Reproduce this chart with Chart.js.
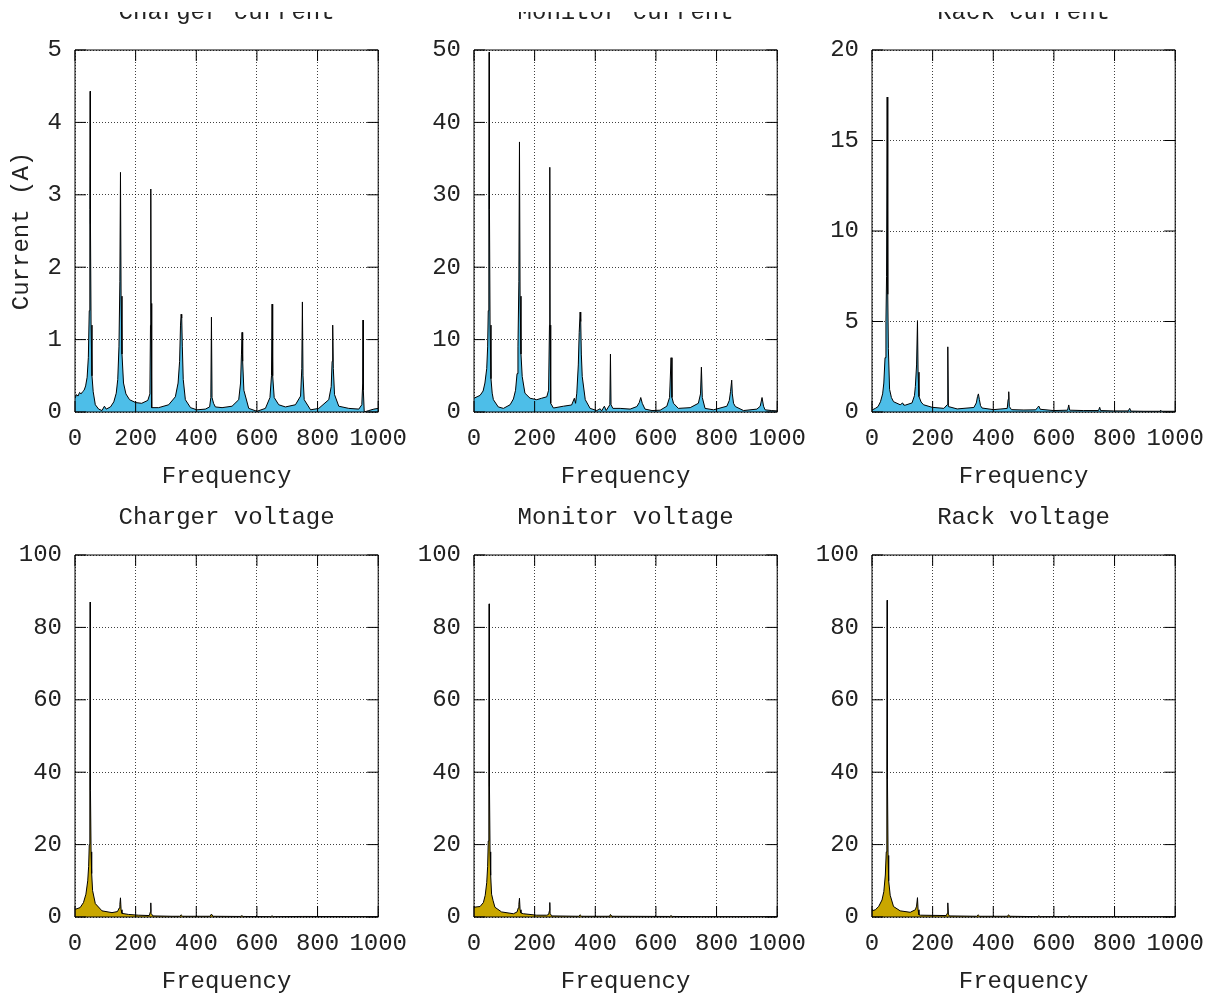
<!DOCTYPE html>
<html>
<head>
<meta charset="utf-8">
<script src="https://cdn.jsdelivr.net/npm/chart.js@4/dist/chart.umd.min.js"></script>
<style>
    html, body { margin: 0; padding: 0; background: #fff; overflow: hidden; }
    body { width: 1214px; height: 999px; position: relative; overflow: hidden; }
    canvas { position: absolute; }
    /* top band of the original picture is blank, cutting the first row titles */
    #topRow { position: absolute; left: 0; top: 12px; width: 1214px; height: 500px; overflow: hidden; }
</style>
</head>
<body>
<div id="topRow">
<canvas id="c0" width="419" height="537" style="left:0px;top:-57px"></canvas>
<canvas id="c1" width="419" height="537" style="left:399px;top:-57px"></canvas>
<canvas id="c2" width="419" height="537" style="left:797px;top:-57px"></canvas>
</div>
<canvas id="c3" width="419" height="537" style="left:0px;top:460px"></canvas>
<canvas id="c4" width="419" height="537" style="left:399px;top:460px"></canvas>
<canvas id="c5" width="419" height="537" style="left:797px;top:460px"></canvas>
<script>
// spectra (frequency, amplitude)
const chargerCurrentFreq = [0,5,10,15,20,25,30,35,40,44,47,49,50,51,53,56,60,67,78,89,97,103,117,128,136,141,145,148,150,152,155,160,168,180,200,220,240,247,249,250,251,253,276,309,331,340,345,348,350,352,354,357,364,381,402,430,444,448,450,452,457,463,485,518,540,546,549,551,553,557,573,600,628,643,648,650,652,657,672,694,727,744,748,750,752,756,777,804,837,845,848,850,852,856,870,903,936,946,949,950,951,954,969,986,1000];
const chargerCurrent = [0.19,0.24,0.22,0.27,0.25,0.28,0.30,0.36,0.48,0.75,1.4,2.8,4.43,2.6,1.2,0.5,0.28,0.10,0.04,0.02,0.08,0.04,0.07,0.14,0.26,0.45,0.9,1.8,3.31,1.6,0.8,0.4,0.25,0.17,0.13,0.12,0.16,0.25,1.2,3.08,1.5,0.06,0.06,0.10,0.21,0.40,0.7,1.2,1.35,1.30,0.9,0.45,0.17,0.06,0.03,0.04,0.07,0.2,1.31,0.2,0.12,0.07,0.06,0.08,0.17,0.4,0.8,1.1,0.7,0.3,0.05,0.01,0.05,0.20,0.5,1.49,0.5,0.2,0.10,0.07,0.10,0.22,0.6,1.52,0.5,0.17,0.03,0.05,0.17,0.35,0.7,1.2,0.6,0.24,0.08,0.05,0.04,0.10,0.4,1.27,0.3,0.0,0.02,0.04,0.05];

const monitorCurrentFreq = [0,10,20,30,36,42,45,47,49,50,51,53,56,60,64,80,97,119,130,137,142,145,148,150,152,155,159,168,185,207,223,240,246,249,250,251,253,262,295,322,331,335,339,344,347,350,352,354,357,367,383,405,416,421,430,436,448,450,452,458,482,515,537,545,550,555,564,587,614,636,645,650,653,658,674,713,740,747,750,753,762,790,834,842,846,850,852,856,862,889,933,944,950,955,960,982,1000];
const monitorCurrent = [1.9,2.1,2.3,2.9,4.0,6.0,9.0,14,30,49.7,28,12,4.6,2.6,1.7,0.7,0.5,1.0,1.8,3.0,5.3,9,18,37.3,16,8,4.9,2.6,1.9,1.7,1.9,2.1,3.0,12,33.8,12,1.2,0.55,0.8,0.97,1.9,1.2,2.6,6.5,11,13.8,12.5,8,4.9,1.7,0.5,0.2,0.45,0.15,0.8,0.2,1.0,8.0,1.0,0.5,0.5,0.4,0.75,1.3,2.0,1.2,0.4,0.2,0.25,0.8,2.0,7.5,2.0,1.2,0.5,0.6,1.2,2.5,6.2,2.0,0.5,0.3,0.8,1.6,2.8,4.4,2.5,1.2,0.75,0.2,0.4,0.8,2.0,0.8,0.3,0.2,0.15];

const rackCurrentFreq = [0,11,20,28,35,39,43,46,48,50,52,54,58,64,71,93,101,105,110,132,140,143,147,150,152,155,162,170,198,237,248,250,252,281,336,344,348,351,354,358,363,401,446,449,451,453,460,501,540,546,550,555,599,645,649,652,698,747,751,754,797,845,850,854,897,950,952,955,1000];
const rackCurrent = [0.11,0.2,0.3,0.57,1.0,1.6,3.0,5.0,7.5,17.4,6.5,3.5,1.25,0.8,0.57,0.4,0.5,0.38,0.38,0.5,0.9,1.4,2.6,5.05,2.2,0.85,0.55,0.4,0.26,0.2,0.4,3.6,0.3,0.17,0.25,0.5,0.85,1.0,0.7,0.35,0.22,0.13,0.2,0.7,1.12,0.3,0.13,0.11,0.12,0.25,0.33,0.15,0.08,0.1,0.39,0.1,0.08,0.08,0.26,0.08,0.06,0.06,0.2,0.05,0.04,0.04,0.1,0.04,0.04];

const chargerVoltageFreq = [0,10,17,28,36,42,45,47,49,50,51,53,55,58,67,89,122,140,146,148,150,152,155,177,210,245,249,250,251,257,320,345,350,355,445,450,455,545,550,555,645,650,655,750,1000];
const chargerVoltage = [2.1,2.4,2.6,4.0,6.3,10,14,20,40,87,35,18,12,7.3,3.7,1.7,1.2,1.5,2.5,3.5,5.3,2.0,1.0,0.7,0.5,0.4,1.5,3.9,1.0,0.3,0.2,0.2,0.6,0.2,0.2,0.8,0.2,0.15,0.35,0.15,0.1,0.3,0.1,0.15,0.1];

const monitorVoltageFreq = [0,10,20,31,37,42,45,47,49,50,51,53,55,58,63,69,91,130,142,146,148,150,152,155,163,207,240,246,249,250,251,256,345,350,355,447,450,455,645,650,655,750,1000];
const monitorVoltage = [2.7,2.8,2.9,4.0,6.0,9.5,14,21,42,86.5,36,18,11.5,6.3,4.5,2.7,1.4,0.9,1.4,2.5,3.5,5.2,2.0,1.1,0.9,0.5,0.5,0.7,1.8,4.0,1.0,0.3,0.2,0.6,0.2,0.2,0.7,0.2,0.15,0.35,0.15,0.1,0.1];

const rackVoltageFreq = [0,11,22,33,39,44,47,49,50,51,53,55,60,71,93,126,143,147,150,152,155,160,200,245,248,250,252,255,345,350,355,447,450,455,545,550,555,645,650,655,1000];
const rackVoltage = [1.7,2.0,2.9,4.7,7,11.6,18,40,87.5,38,17,10,6,2.9,1.7,1.3,2.0,3.0,5.35,2.0,0.6,0.5,0.45,0.4,1.0,3.9,0.8,0.3,0.2,0.6,0.2,0.2,0.6,0.2,0.1,0.3,0.1,0.1,0.3,0.1,0.1];

const panelTitles = ['Charger current', 'Monitor current', 'Rack current',
                     'Charger voltage', 'Monitor voltage', 'Rack voltage'];
const xTicks = [0, 200, 400, 600, 800, 1000];
const yMax = [5, 50, 20, 100, 100, 100];
const yStep = [1, 10, 5, 20, 20, 20];

const currentFill = '#4dbee8';
const voltageFill = '#c9a700';
const FONT = {family: "'Liberation Mono', 'DejaVu Sans Mono', monospace", size: 24};
const TEXT = '#222';

// gnuplot style: solid border with inward ticks on all four sides
const frameTicks = {
    id: 'frameTicks',
    afterDatasetsDraw(chart) {
        const {ctx, chartArea: a, scales: {x, y}} = chart;
        const tl = 11;
        ctx.save();
        ctx.strokeStyle = '#000';
        ctx.lineWidth = 1;
        ctx.beginPath();
        x.ticks.forEach(t => {
            const px = x.getPixelForValue(t.value);
            ctx.moveTo(px, a.bottom); ctx.lineTo(px, a.bottom - tl);
            ctx.moveTo(px, a.top); ctx.lineTo(px, a.top + tl);
        });
        y.ticks.forEach(t => {
            const py = y.getPixelForValue(t.value);
            ctx.moveTo(a.left, py); ctx.lineTo(a.left + tl, py);
            ctx.moveTo(a.right, py); ctx.lineTo(a.right - tl, py);
        });
        ctx.rect(a.left, a.top, a.right - a.left, a.bottom - a.top);
        ctx.stroke();
        ctx.restore();
    }
};

function makePanel(idx, freq, amp, fillColor) {
    const points = freq.map((f, i) => ({x: f, y: amp[i]}));
    new Chart(document.getElementById('c' + idx).getContext('2d'), {
        type: 'line',
        data: {
            datasets: [{
                data: points,
                fill: 'origin',
                backgroundColor: fillColor,
                borderColor: '#000',
                borderWidth: 1,
                pointRadius: 0,
                tension: 0,
            }]
        },
        options: {
            responsive: false,
            animation: false,
            layout: {padding: {left: 0, right: 37, top: 0, bottom: 0}},
            plugins: {
                legend: {display: false},
                tooltip: {enabled: false},
                title: {
                    display: true,
                    text: panelTitles[idx],
                    fullSize: false,
                    color: TEXT,
                    font: {...FONT, weight: 'normal'},
                    padding: {top: 43.6, bottom: 22.6},
                },
            },
            scales: {
                x: {
                    type: 'linear',
                    min: 0,
                    max: 1000,
                    afterBuildTicks: (scale) => { scale.ticks = xTicks.map(v => ({value: v})); },
                    afterFit: (scale) => { scale.height = 80; },
                    ticks: {color: TEXT, font: FONT, padding: 12, maxRotation: 0, autoSkip: false,
                            callback: (v) => String(v)},
                    grid: {color: 'rgba(0,0,0,0.75)', drawTicks: false},
                    border: {display: false, dash: [1, 2]},
                    title: {display: true, text: 'Frequency', color: TEXT, font: FONT, padding: {top: 0, bottom: 0.6}},
                },
                y: {
                    min: 0,
                    max: yMax[idx],
                    afterFit: (scale) => { scale.width = 75; },
                    ticks: {stepSize: yStep[idx], color: TEXT, font: FONT, padding: 13},
                    grid: {color: 'rgba(0,0,0,0.75)', drawTicks: false},
                    border: {display: false, dash: [1, 2]},
                    title: {display: idx === 0, text: 'Current (A)', color: TEXT, font: FONT, padding: {top: 7.6, bottom: 0}},
                },
            },
        },
        plugins: [frameTicks],
    });
}

makePanel(0, chargerCurrentFreq, chargerCurrent, currentFill);
makePanel(1, monitorCurrentFreq, monitorCurrent, currentFill);
makePanel(2, rackCurrentFreq, rackCurrent, currentFill);
makePanel(3, chargerVoltageFreq, chargerVoltage, voltageFill);
makePanel(4, monitorVoltageFreq, monitorVoltage, voltageFill);
makePanel(5, rackVoltageFreq, rackVoltage, voltageFill);
</script>
</body>
</html>
